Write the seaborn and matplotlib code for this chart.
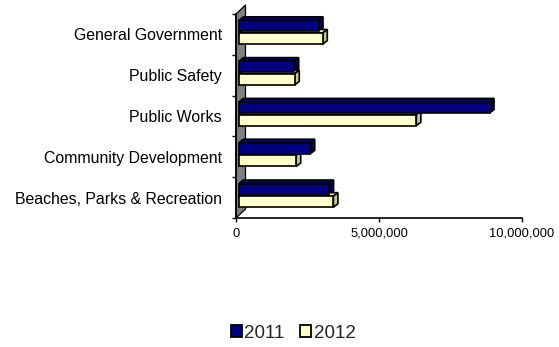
import matplotlib
matplotlib.use("Agg")
import matplotlib.pyplot as plt
import matplotlib.transforms as mtransforms
from matplotlib.patches import Polygon, Patch
from matplotlib.ticker import FixedLocator, FuncFormatter
import pandas as pd
import seaborn as sns

# Expenditure by department
categories = [
    "General Government",
    "Public Safety",
    "Public Works",
    "Community Development",
    "Beaches, Parks & Recreation",
]
years = ["2011", "2012"]
values_2011 = [2780000, 1930000, 8760000, 2490000, 3150000]
values_2012 = [2930000, 1950000, 6200000, 2000000, 3300000]
x_ticks = [0, 5000000, 10000000]

front_colors = {"2011": "#000080", "2012": "#FFFFCC"}
top_colors = {"2011": "#00006E", "2012": "#EDEDBA"}
side_colors = {"2011": "#000050", "2012": "#C6C68C"}

df = pd.DataFrame({
    "Department": categories * 2,
    "Year": [years[0]] * len(categories) + [years[1]] * len(categories),
    "Amount": values_2011 + values_2012,
})

sns.set_theme(style="white")
plt.rcParams["font.family"] = ["Liberation Sans", "DejaVu Sans"]

W, H, DPI = 559, 347, 100
fig = plt.figure(figsize=(W / DPI, H / DPI), dpi=DPI)
fig.patch.set_facecolor("white")
ax = fig.add_axes([236 / W, 1 - 218 / H, 286 / W, 204 / H])

EDGE = 1.2
sns.barplot(
    data=df, y="Department", x="Amount", hue="Year",
    order=categories, hue_order=years, palette=front_colors, saturation=1,
    width=0.62, gap=0.12, edgecolor="black", linewidth=EDGE,
    legend=False, orient="h", ax=ax,
)
ax.set_xlim(0, 10_000_000)
ax.set_ylim(len(categories) - 0.5, -0.5)
ax.set_xlabel("")
ax.set_ylabel("")

# pixel -> data conversions for the oblique depth
px_x = (ax.get_xlim()[1] - ax.get_xlim()[0]) / 286.0
px_y = len(categories) / 204.0

# bars sit a little behind the front plane of the axes
bar_plane = ax.transData + mtransforms.ScaledTranslation(3 / DPI, 2.2 / DPI, fig.dpi_scale_trans)
bar_dx, bar_dy = 4.5 * px_x, 3.5 * px_y

for year, container in zip(years, ax.containers):
    for bar in container:
        bar.set_transform(bar_plane)
        bar.set_zorder(3)
        x0, y0 = bar.get_x(), bar.get_y()
        w, h = bar.get_width(), bar.get_height()
        x1, y1 = x0 + w, y0 + h
        top = Polygon(
            [(x0, y0), (x1, y0), (x1 + bar_dx, y0 - bar_dy), (x0 + bar_dx, y0 - bar_dy)],
            closed=True, facecolor=top_colors[year], edgecolor="black",
            linewidth=EDGE, transform=bar_plane, zorder=2, clip_on=False,
        )
        side = Polygon(
            [(x1, y0), (x1, y1), (x1 + bar_dx, y1 - bar_dy), (x1 + bar_dx, y0 - bar_dy)],
            closed=True, facecolor=side_colors[year], edgecolor="black",
            linewidth=EDGE, transform=bar_plane, zorder=2, clip_on=False,
        )
        ax.add_patch(top)
        ax.add_patch(side)

# grey back wall along the category axis
wall_dx, wall_dy = 9.5 * px_x, 9 * px_y
y_lo, y_hi = -0.5, len(categories) - 0.5
wall = Polygon(
    [(0, y_hi), (0, y_lo), (wall_dx, y_lo - wall_dy), (wall_dx, y_hi - wall_dy)],
    closed=True, facecolor="#808080", edgecolor="black", linewidth=0.9,
    zorder=1, clip_on=False,
)
ax.add_patch(wall)

# spines and ticks
for side_name in ("top", "right"):
    ax.spines[side_name].set_visible(False)
for side_name in ("left", "bottom"):
    ax.spines[side_name].set_visible(True)
    ax.spines[side_name].set_color("black")
    ax.spines[side_name].set_linewidth(1.2)
    ax.spines[side_name].set_zorder(4)

ax.yaxis.set_minor_locator(FixedLocator([k - 0.5 for k in range(len(categories) + 1)]))
ax.tick_params(axis="y", which="major", length=0, pad=10, labelsize=11.4, labelcolor="black")
ax.tick_params(axis="y", which="minor", left=True, length=3, width=1.0, color="black", direction="out")

ax.xaxis.set_major_locator(FixedLocator(x_ticks))
ax.xaxis.set_major_formatter(FuncFormatter(lambda v, _: f"{int(v):,}"))
ax.tick_params(axis="x", which="major", bottom=True, length=3, width=1.0, color="black",
               direction="out", pad=4, labelsize=9.3, labelcolor="black")

handles = [Patch(facecolor=front_colors[y], edgecolor="black", linewidth=1.3) for y in years]
fig.legend(
    handles, years, loc="center", bbox_to_anchor=(293 / W, 1 - 333 / H), ncol=2,
    frameon=False, fontsize=13.5, handlelength=0.62, handleheight=0.62,
    handletextpad=0.12, columnspacing=0.8, borderpad=0,
)

fig.savefig("out.png", dpi=DPI, facecolor="white")
